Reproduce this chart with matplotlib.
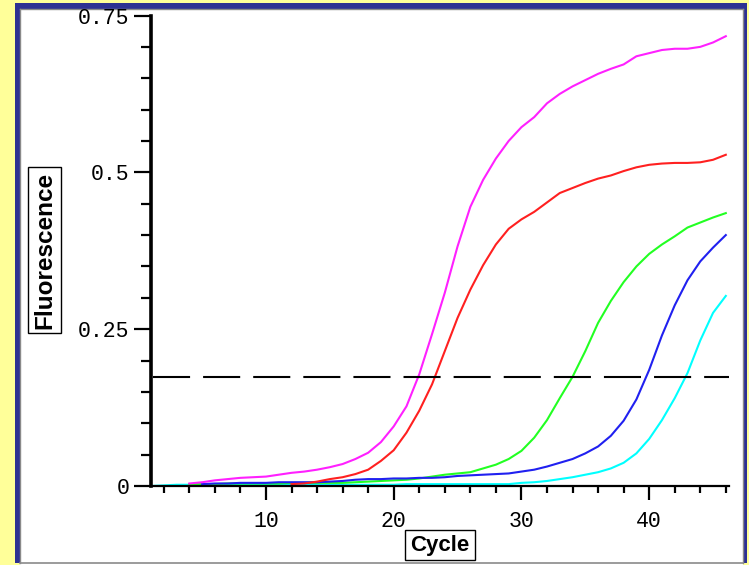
import matplotlib
matplotlib.use("Agg")
import matplotlib.pyplot as plt
from matplotlib.patches import Rectangle
import numpy as np

# ---- data ----
cycles_magenta = list(range(4, 47))
magenta = [0.004, 0.006, 0.009, 0.011, 0.013, 0.014, 0.015, 0.018, 0.021, 0.023,
           0.026, 0.030, 0.035, 0.043, 0.053, 0.070, 0.095, 0.127, 0.178, 0.242,
           0.308, 0.382, 0.445, 0.488, 0.522, 0.550, 0.572, 0.588, 0.610, 0.625,
           0.637, 0.647, 0.657, 0.665, 0.672, 0.685, 0.690, 0.695, 0.697, 0.697,
           0.700, 0.707, 0.717]

cycles_red = list(range(12, 47))
red = [0.003, 0.004, 0.007, 0.011, 0.014, 0.019, 0.026, 0.040, 0.057, 0.085,
       0.120, 0.162, 0.215, 0.268, 0.313, 0.352, 0.385, 0.410, 0.425, 0.437,
       0.452, 0.467, 0.475, 0.483, 0.490, 0.495, 0.502, 0.508, 0.512, 0.514,
       0.515, 0.515, 0.516, 0.520, 0.528]

cycles_green = list(range(4, 47))
green = [0.003, 0.003, 0.003, 0.004, 0.004, 0.004, 0.004, 0.004, 0.005, 0.005,
         0.005, 0.005, 0.005, 0.006, 0.007, 0.008, 0.009, 0.010, 0.012, 0.015,
         0.018, 0.020, 0.022, 0.028, 0.034, 0.043, 0.056, 0.077, 0.105, 0.140,
         0.174, 0.215, 0.260, 0.295, 0.325, 0.350, 0.370, 0.385, 0.398, 0.412,
         0.420, 0.428, 0.435]

cycles_blue = list(range(5, 47))
blue = [0.003, 0.004, 0.004, 0.005, 0.005, 0.005, 0.006, 0.006, 0.006, 0.006,
        0.007, 0.008, 0.010, 0.011, 0.011, 0.012, 0.012, 0.013, 0.013, 0.014,
        0.016, 0.017, 0.018, 0.019, 0.020, 0.023, 0.026, 0.031, 0.037, 0.043,
        0.052, 0.063, 0.080, 0.104, 0.138, 0.185, 0.240, 0.288, 0.328, 0.358,
        0.380, 0.400]

cycles_cyan = list(range(1, 47))
cyan = [0.000, 0.001, 0.002, 0.002, 0.002, 0.002, 0.002, 0.002, 0.002, 0.002,
        0.002, 0.002, 0.002, 0.002, 0.002, 0.002, 0.002, 0.002, 0.002, 0.002,
        0.003, 0.003, 0.003, 0.003, 0.003, 0.003, 0.003, 0.003, 0.003, 0.005,
        0.006, 0.008, 0.011, 0.014, 0.018, 0.022, 0.028, 0.037, 0.052, 0.075,
        0.105, 0.140, 0.180, 0.232, 0.276, 0.303]

threshold = 0.174
y_ticks = [0, 0.25, 0.5, 0.75]
y_ticklabels = ["0", "0.25", "0.5", "0.75"]
x_ticks = [10, 20, 30, 40]
x_ticklabels = ["10", "20", "30", "40"]
x_label = "Cycle"
y_label = "Fluorescence"

W, H = 749, 565
fig = plt.figure(figsize=(W / 100, H / 100), dpi=100)
fig.patch.set_facecolor("#FFFF99")

# background frame drawn in a dedicated axes behind the plot
bg = fig.add_axes([0, 0, 1, 1], zorder=-5)
bg.set_xlim(0, W)
bg.set_ylim(H, 0)
bg.axis("off")
bg.add_patch(Rectangle((15, 3), 732, 560, facecolor="#2E3192", edgecolor="none"))
bg.add_patch(Rectangle((19.5, 8.5), 723, 557, facecolor="white", edgecolor="none"))
bg.plot([19.5, 742.5], [563, 563], color="#8a8a8a", lw=1.2)
bg.plot([19.5, 19.5], [8.5, 563], color="#8a8a8a", lw=1.0)
bg.plot([19.5, 742.5], [8.5, 8.5], color="#8a8a8a", lw=1.0)
bg.plot([742.5, 742.5], [8.5, 563], color="#8a8a8a", lw=1.0)

left, right = 151 / W, 729 / W
bottom, top = 1 - 486 / H, 1 - 15.5 / H
ax = fig.add_axes([left, bottom, right - left, top - bottom], zorder=1)
ax.set_facecolor("none")
ax.set_xlim(1, 46.25)
ax.set_ylim(0, 0.75)

lw = 1.5
ax.plot(cycles_cyan, cyan, color="#00FFFF", lw=lw)
ax.plot(cycles_green, green, color="#22FF22", lw=lw)
ax.plot(cycles_blue, blue, color="#2020F0", lw=lw)
ax.plot(cycles_red, red, color="#FF2020", lw=lw)
ax.plot(cycles_magenta, magenta, color="#FF20FF", lw=lw)

ax.axhline(threshold, xmin=0.003, xmax=1.0, color="black", lw=1.5,
           linestyle=(0, (17.8, 6.25)))

for s in ["top", "right"]:
    ax.spines[s].set_visible(False)
ax.spines["left"].set_linewidth(2.6)
ax.spines["bottom"].set_linewidth(1.6)

mono = "Liberation Mono"
ax.set_yticks(y_ticks)
ax.set_yticklabels(y_ticklabels, family=mono, fontsize=15.5)
ax.set_yticks(np.arange(0, 0.76, 0.05), minor=True)
ax.set_xticks(x_ticks)
ax.set_xticklabels(x_ticklabels, family=mono, fontsize=15.5)
ax.set_xticks(np.arange(2, 47, 2), minor=True)

ax.tick_params(axis="y", which="major", direction="out", length=12.5, width=1.6, pad=3)
ax.tick_params(axis="y", which="minor", direction="out", length=7, width=1.6)
ax.tick_params(axis="x", which="major", direction="out", length=10, width=1.6, pad=8)
ax.tick_params(axis="x", which="minor", direction="out", length=5, width=1.6)

fig.text(44.5 / W, 1 - 250 / H, y_label, rotation=90, ha="center", va="center",
         family="Liberation Sans", weight="bold", fontsize=17.5, zorder=3,
         bbox=dict(boxstyle="square,pad=0.2", fc="white", ec="black", lw=1))
fig.text(440 / W, 1 - 545 / H, x_label, ha="center", va="center",
         family="Liberation Sans", weight="bold", fontsize=16, zorder=3,
         bbox=dict(boxstyle="square,pad=0.22", fc="white", ec="black", lw=1))

fig.savefig("out.png", dpi=100, facecolor=fig.get_facecolor())
